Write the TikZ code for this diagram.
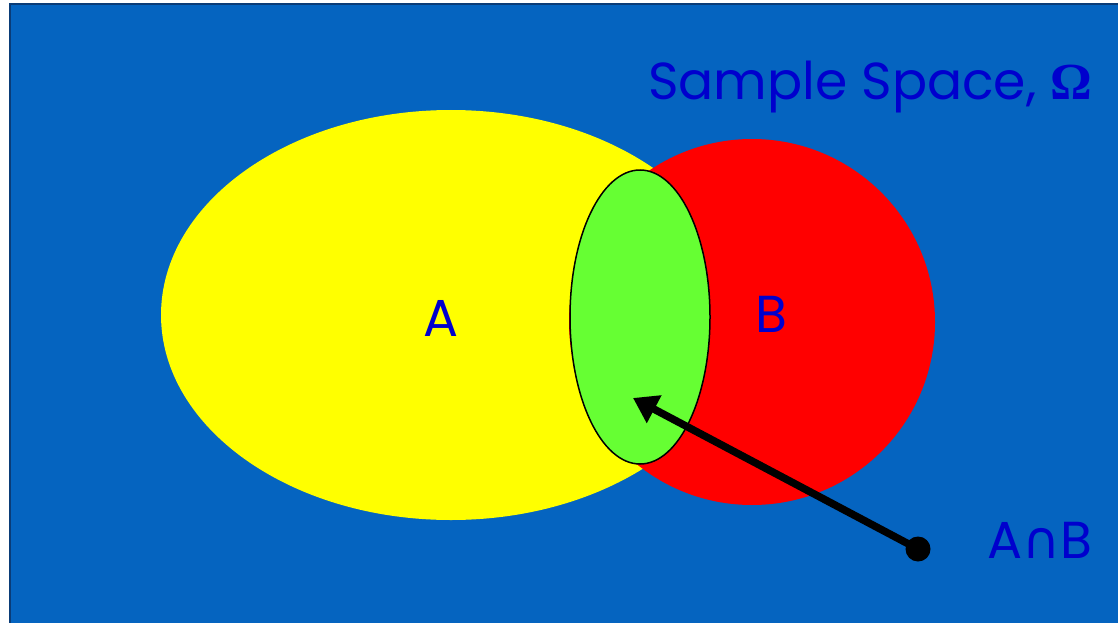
\documentclass[tikz,border=0pt]{standalone}
\usepackage{fontspec}
\usetikzlibrary{arrows.meta}
\setmainfont{Poppins}
\newfontfamily\greekfont{Liberation Serif}
\newfontfamily\symfont{DejaVu Sans}
\definecolor{spaceblue}{RGB}{5,100,192}
\definecolor{edgeblue}{RGB}{10,60,120}
\definecolor{labelblue}{RGB}{0,0,205}
\definecolor{setgreen}{RGB}{102,255,51}
\definecolor{setyellow}{RGB}{255,255,0}
\tikzset{
  setlabel/.style={text=labelblue,font=\fontsize{52}{60}\selectfont,inner sep=0pt,anchor=base}
}
\begin{document}
\begin{tikzpicture}[x=1pt,y=-1pt]
 \useasboundingbox (0,0) rectangle (1118,623);
 \fill[spaceblue] (10,4) rectangle (1118,623);
 \draw[edgeblue,line width=2pt] (10,623)--(10,4)--(1118,4);
 \fill[setyellow] (451,315) ellipse [x radius=290,y radius=205];
 \fill[red] (752,322) circle [radius=183];
 \draw[black,line width=1.5pt,fill=setgreen] (640,317) ellipse [x radius=70,y radius=147];
 \node[setlabel] (lblA) at (441,336) {A};
 \node[setlabel] (lblB) at (771,332) {B};
 \node[setlabel,anchor=base west] (omega) at (648,100) {Sample Space, {\greekfont\bfseries Ω}};
 \node[setlabel,anchor=base west] (inter) at (987,558) {A{\symfont ∩}B};
 \node[circle,fill=black,minimum size=25pt,inner sep=0pt] (dot) at (918,549) {};
 \coordinate (tip) at (633,398);
 \draw[-{Triangle[length=24pt,width=30pt]},line width=7.5pt] (dot.center) -- (tip);
\end{tikzpicture}
\end{document}
